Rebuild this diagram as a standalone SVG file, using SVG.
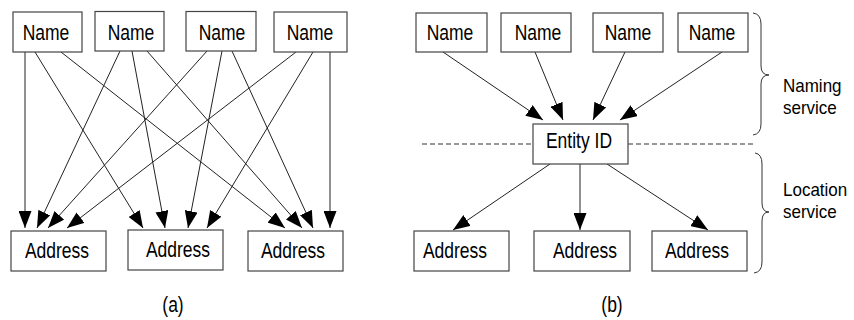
<svg xmlns="http://www.w3.org/2000/svg" width="854" height="320" viewBox="0 0 854 320">
<defs>
<style>
.box{fill:#fff;stroke:#444;stroke-width:1.2}
.t{font-family:"Liberation Sans",Arial,sans-serif;font-size:17.5px;fill:#000;text-anchor:middle}
.tl{font-family:"Liberation Sans",Arial,sans-serif;font-size:17px;fill:#000;text-anchor:start}
.c line{stroke:#222;stroke-width:1;marker-end:url(#ah)}
.dash{stroke:#333;stroke-width:1;stroke-dasharray:5,3;fill:none}
.brace{fill:none;stroke:#333;stroke-width:1}
</style>
<marker id="ah" viewBox="0 -6.5 17 13" refX="17" refY="0" markerWidth="17" markerHeight="13" markerUnits="userSpaceOnUse" orient="auto">
<path d="M0,-6.5 L17,0 L0,6.5 z" fill="#000"/>
</marker>
</defs>
<rect width="854" height="320" fill="#fff"/>

<g id="connectors-a" class="c">
<line x1="25" y1="52" x2="25" y2="228"/>
<line x1="35" y1="52" x2="143" y2="228"/>
<line x1="61" y1="52" x2="285" y2="228"/>
<line x1="120" y1="51" x2="37" y2="228"/>
<line x1="132" y1="51" x2="165" y2="228"/>
<line x1="147" y1="51" x2="302" y2="228"/>
<line x1="207" y1="51" x2="48" y2="228"/>
<line x1="222" y1="51" x2="188" y2="228"/>
<line x1="232" y1="51" x2="313" y2="228"/>
<line x1="296" y1="52" x2="67" y2="228"/>
<line x1="313" y1="52" x2="207" y2="228"/>
<line x1="330" y1="52" x2="330" y2="228"/>
</g>

<g id="a-name1"><rect class="box" x="13" y="12" width="69" height="40"/><text class="t" transform="translate(46,40) scale(1,1.22)">Name</text></g>
<g id="a-name2"><rect class="box" x="95" y="11.5" width="69" height="39.5"/><text class="t" transform="translate(131,39.5) scale(1,1.22)">Name</text></g>
<g id="a-name3"><rect class="box" x="186" y="11.5" width="70" height="39.5"/><text class="t" transform="translate(222,39.5) scale(1,1.22)">Name</text></g>
<g id="a-name4"><rect class="box" x="274" y="12" width="73" height="40"/><text class="t" transform="translate(310,40) scale(1,1.22)">Name</text></g>

<g id="a-addr1"><rect class="box" x="11" y="231" width="95" height="40"/><text class="t" transform="translate(57,258) scale(1,1.22)">Address</text></g>
<g id="a-addr2"><rect class="box" x="128" y="230" width="95" height="40"/><text class="t" transform="translate(178,257) scale(1,1.22)">Address</text></g>
<g id="a-addr3"><rect class="box" x="248" y="231" width="95" height="40"/><text class="t" transform="translate(293,258) scale(1,1.22)">Address</text></g>

<text id="label-a" class="t" transform="translate(173,312) scale(1,1.22)">(a)</text>

<g id="connectors-b">
<line class="dash" x1="422" y1="144" x2="533" y2="144"/>
<line class="dash" x1="628" y1="144" x2="753" y2="144"/>
<g class="c">
<line x1="443" y1="52" x2="543" y2="120"/>
<line x1="535" y1="52" x2="563" y2="120"/>
<line x1="625" y1="52" x2="593" y2="120"/>
<line x1="722" y1="52" x2="620" y2="120"/>
<line x1="550" y1="164" x2="453" y2="230"/>
<line x1="580" y1="164" x2="580" y2="230"/>
<line x1="607" y1="164" x2="708" y2="230"/>
</g>
</g>

<g id="b-name1"><rect class="box" x="416" y="13" width="71" height="39"/><text class="t" transform="translate(450,40) scale(1,1.22)">Name</text></g>
<g id="b-name2"><rect class="box" x="501" y="13" width="70" height="39"/><text class="t" transform="translate(538,40) scale(1,1.22)">Name</text></g>
<g id="b-name3"><rect class="box" x="593" y="13" width="70" height="39"/><text class="t" transform="translate(628,40) scale(1,1.22)">Name</text></g>
<g id="b-name4"><rect class="box" x="678" y="13" width="70" height="39"/><text class="t" transform="translate(712,40) scale(1,1.22)">Name</text></g>

<g id="b-entity"><rect class="box" x="533" y="124" width="95" height="40"/><text class="t" transform="translate(579,148) scale(1,1.22)">Entity ID</text></g>

<g id="b-addr1"><rect class="box" x="414" y="231" width="95" height="40"/><text class="t" transform="translate(455,258) scale(1,1.22)">Address</text></g>
<g id="b-addr2"><rect class="box" x="534" y="231" width="96" height="40"/><text class="t" transform="translate(585,258) scale(1,1.22)">Address</text></g>
<g id="b-addr3"><rect class="box" x="652" y="231" width="95" height="40"/><text class="t" transform="translate(697,258) scale(1,1.22)">Address</text></g>

<text id="label-b" class="t" transform="translate(612,312) scale(1,1.22)">(b)</text>

<g id="naming-service">
<path class="brace" d="M753,13 Q761,14 761,24 L761,66 Q761,75 769,75 Q761,75 761,84 L761,124 Q761,134 753,135"/>
<text class="tl" transform="translate(783,92) scale(1,1.1)">Naming</text>
<text class="tl" transform="translate(783,114) scale(1,1.1)">service</text>
</g>
<g id="location-service">
<path class="brace" d="M755,153 Q762,154 762,164 L762,203 Q762,212 769,212 Q762,212 762,221 L762,262 Q762,272 754,273"/>
<text class="tl" transform="translate(783,196) scale(1,1.1)">Location</text>
<text class="tl" transform="translate(783,218) scale(1,1.1)">service</text>
</g>
</svg>
